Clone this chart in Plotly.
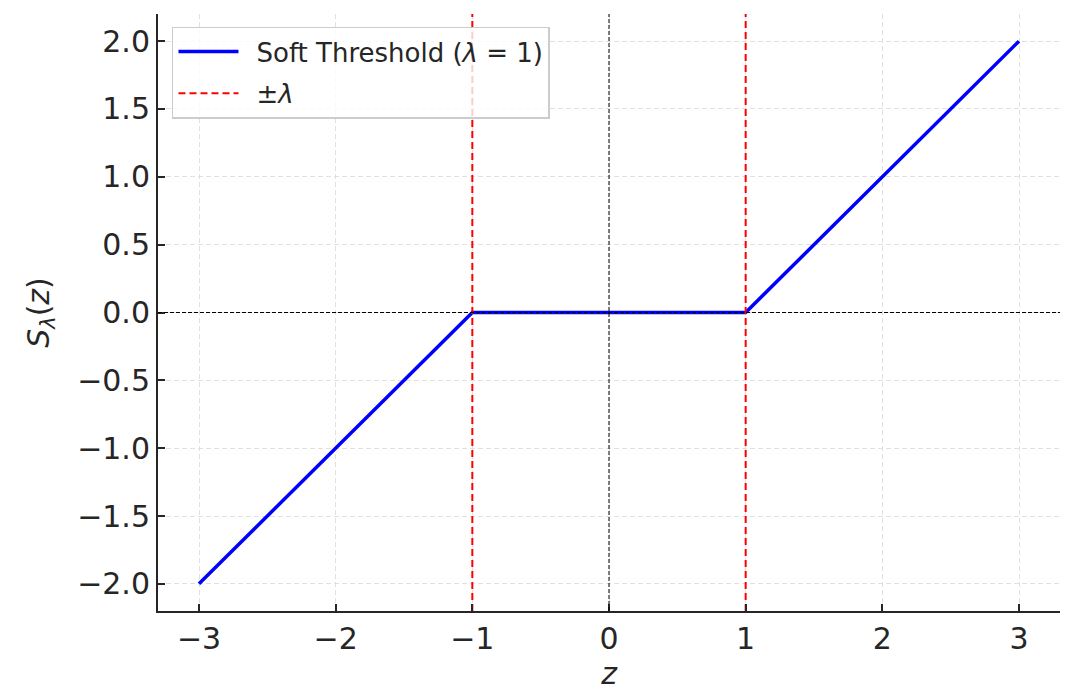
import plotly.graph_objects as go

lam = 1
z_points = [-3, -1, 1, 3]
s_points = [-2, 0, 0, 2]
x_ticks = [-3, -2, -1, 0, 1, 2, 3]
y_ticks = [-2.0, -1.5, -1.0, -0.5, 0.0, 0.5, 1.0, 1.5, 2.0]
x_range = [-3.3, 3.3]
y_range = [-2.2, 2.2]

FONT = "DejaVu Sans"
TXT = "#262626"
GAP = "\u2002"

fig = go.Figure()
fig.add_trace(go.Scatter(
    x=z_points, y=s_points, mode="lines",
    line=dict(color="blue", width=3.5),
    name=GAP + "Soft Threshold (<i>λ</i> = 1)", legendgroup="a"))
fig.add_trace(go.Scatter(
    x=[-lam, -lam, None, lam, lam], y=[y_range[0], y_range[1], None, y_range[0], y_range[1]],
    mode="lines", line=dict(color="red", width=2, dash="7px,4px"),
    name=GAP + "±<i>λ</i>", legendgroup="b"))

fig.add_hline(y=0, line=dict(color="black", width=1, dash="4px,2px"), layer="above")
fig.add_vline(x=0, line=dict(color="black", width=1, dash="4px,2px"), layer="above")

axis_common = dict(
    showline=True, linecolor=TXT, linewidth=2,
    ticks="inside", ticklen=7, tickwidth=1.5, tickcolor=TXT,
    showgrid=True, gridcolor="#e0e0e0", griddash="5px,3px", gridwidth=1,
    zeroline=False, mirror=False, automargin=False,
    tickfont=dict(family=FONT, size=30, color=TXT),
)

fig.update_xaxes(range=x_range, tickvals=x_ticks,
                 title=dict(text="<i>z</i>", font=dict(family=FONT, size=30, color=TXT), standoff=6),
                 **axis_common)
fig.update_yaxes(range=y_range, tickvals=y_ticks, tickformat=".1f",
                 title=dict(text="<i>S</i><sub><i>λ</i></sub>(<i>z</i>)", font=dict(family=FONT, size=30, color=TXT), standoff=19),
                 **axis_common)

fig.update_layout(
    width=1069, height=689,
    margin=dict(l=150, r=17, t=6, b=86),
    plot_bgcolor="white", paper_bgcolor="white",
    font=dict(family=FONT, color=TXT),
    legend=dict(
        x=0.0155, y=0.979, xanchor="left", yanchor="top",
        bgcolor="rgba(255,255,255,0.8)", bordercolor="#cccccc", borderwidth=1.5,
        font=dict(family=FONT, size=26, color=TXT),
        itemwidth=60, tracegroupgap=5,
    ),
    showlegend=True,
)

fig.write_html("out.html")
